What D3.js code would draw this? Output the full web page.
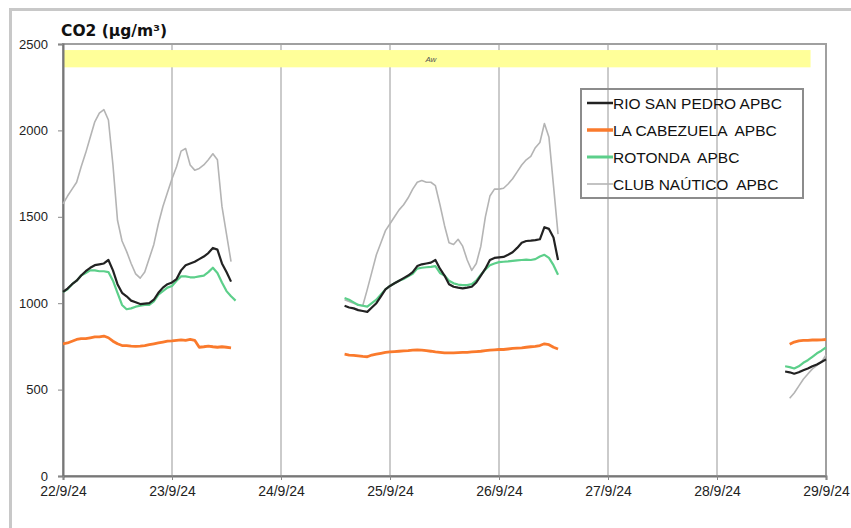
<!DOCTYPE html>
<html><head><meta charset="utf-8">
<script src="https://cdn.jsdelivr.net/npm/d3@7"></script>
<style>
body{margin:0;background:#fff;}
svg{display:block;}
</style></head>
<body>
<svg id="chart" width="851" height="528"></svg>
<script>
// ---- data ----
const dateLabels = ["22/9/24","23/9/24","24/9/24","25/9/24","26/9/24","27/9/24","28/9/24","29/9/24"];
const yTicks = [0, 500, 1000, 1500, 2000, 2500];
const seriesNames = ["RIO SAN PEDRO APBC", "LA CABEZUELA  APBC", "ROTONDA  APBC", "CLUB NAÚTICO  APBC"];
const segmentStartHours = [0, 62, 159]; // hours since 22/9/24 00:00, hourly data
const rioSanPedro = [
  [1065,1085,1110,1130,1160,1185,1205,1220,1225,1230,1250,1190,1110,1060,1040,1015,1005,995,998,1000,1020,1060,1090,1110,1120,1140,1190,1220,1230,1240,1255,1270,1290,1320,1310,1230,1180,1125,null],
  [985,975,970,960,955,950,975,1000,1040,1080,1100,1115,1130,1145,1160,1180,1215,1225,1230,1235,1250,1200,1160,1110,1095,1090,1086,1090,1095,1120,1160,1200,1250,1262,1265,1268,1280,1295,1320,1350,1360,1362,1365,1370,1440,1430,1380,1250],
  [605,600,592,600,612,622,635,645,660,675]
];
const laCabezuela = [
  [765,770,780,790,795,795,800,805,805,810,800,780,765,755,755,752,750,752,755,760,765,770,775,780,782,785,788,785,790,785,745,748,752,748,745,748,745,742,null],
  [705,700,698,695,692,690,700,705,710,715,718,720,722,724,725,728,730,728,725,722,718,715,712,712,713,714,715,716,718,720,722,725,728,730,732,732,735,738,740,742,745,748,750,755,765,760,745,735],
  [null,762,775,782,785,785,787,787,788,790]
];
const rotonda = [
  [1065,1080,1110,1130,1160,1175,1190,1190,1185,1185,1180,1130,1060,990,965,970,980,985,990,990,1010,1050,1070,1090,1100,1130,1155,1155,1150,1150,1155,1160,1180,1205,1175,1120,1070,1040,1015],
  [1030,1020,1005,990,985,980,1000,1020,1050,1080,1100,1115,1130,1140,1155,1170,1200,1205,1208,1210,1215,1175,1160,1130,1115,1108,1105,1105,1110,1130,1165,1195,1220,1230,1238,1240,1242,1245,1248,1250,1252,1250,1255,1270,1280,1262,1220,1165],
  [635,630,622,635,655,670,690,710,725,745]
];
const clubNautico = [
  [1575,1620,1660,1700,1790,1870,1960,2050,2100,2120,2060,1800,1480,1360,1300,1230,1170,1145,1180,1260,1340,1460,1560,1640,1720,1790,1880,1895,1800,1770,1780,1800,1830,1865,1830,1560,1400,1240,null],
  [1020,1010,1000,990,985,1080,1180,1280,1350,1420,1460,1500,1540,1570,1610,1660,1700,1710,1700,1700,1680,1570,1450,1350,1340,1370,1330,1250,1190,1230,1330,1500,1620,1660,1660,1665,1690,1720,1760,1800,1830,1850,1900,1930,2040,1960,1680,1400],
  [null,450,480,520,560,590,620,640,660,700]
];
const bandLabel = "Aw";

// ---- chart ----
const svg = d3.select("#chart");
const m = {left:63, right:826, top:44, bottom:476};
const x = d3.scaleLinear().domain([0,168]).range([m.left, m.right]);
const y = d3.scaleLinear().domain([0,2500]).range([m.bottom, m.top]);

// outer frame
svg.append("path").attr("d","M10.5,528 V9.5 H851").attr("fill","none").attr("stroke","#c8c8c8").attr("stroke-width",3);

// gridlines
svg.append("g").selectAll("line").data(d3.range(1,7)).join("line")
  .attr("x1", d=>x(d*24)).attr("x2", d=>x(d*24))
  .attr("y1", m.top).attr("y2", m.bottom)
  .attr("stroke","#a8a8a8").attr("stroke-width",1.2);

// yellow band
svg.append("rect").attr("x", m.left).attr("y", y(2465)).attr("width", x(164.6)-m.left).attr("height", y(2365)-y(2465))
  .attr("fill","#ffff99");
svg.append("text").attr("x", x(81)).attr("y", y(2415)+3).attr("text-anchor","middle")
  .attr("font-family","Liberation Sans, Arial, sans-serif").attr("font-size",8).attr("font-style","italic").attr("fill","#555")
  .text(bandLabel);

// plot border
svg.append("rect").attr("x", m.left).attr("y", m.top).attr("width", m.right-m.left).attr("height", m.bottom-m.top)
  .attr("fill","none").attr("stroke","#a0a0a0").attr("stroke-width",2);

// axes
const fontAxis = "'Liberation Sans Narrow','Liberation Sans',Arial,sans-serif";
const yAxis = svg.append("g").attr("transform",`translate(${m.left},0)`)
  .call(d3.axisLeft(y).tickValues(yTicks).tickSize(5).tickPadding(10).tickFormat(d3.format("d")));
yAxis.select(".domain").attr("stroke","#777").attr("stroke-width",2);
yAxis.selectAll(".tick line").attr("stroke","#888");
yAxis.selectAll("text").attr("font-family",fontAxis).attr("font-size",13).attr("fill","#222");

const xAxis = svg.append("g").attr("transform",`translate(0,${m.bottom})`)
  .call(d3.axisBottom(x).tickValues(d3.range(0,8).map(d=>d*24)).tickSize(4).tickPadding(6).tickFormat((d,i)=>dateLabels[i]));
xAxis.select(".domain").attr("stroke","#777").attr("stroke-width",2);
xAxis.selectAll(".tick line").attr("stroke","#888");
xAxis.selectAll("text").attr("font-family",fontAxis).attr("font-size",14).attr("fill","#222");

// title
svg.append("text").attr("x", 61).attr("y", 36).attr("font-family","'DejaVu Sans',Verdana,sans-serif")
  .attr("font-weight","bold").attr("font-size",15.5).attr("fill","#111").text("CO2 (µg/m³)");

// series
const seriesData = [clubNautico, rotonda, laCabezuela, rioSanPedro];
const colors = ["#b4b4b4", "#5ccf8a", "#fa7a2c", "#222222"];
const widths = [1.6, 2.2, 2.8, 2.2];
const line = d3.line().defined(d=>d.v!=null).x(d=>x(d.h)).y(d=>y(d.v)).curve(d3.curveLinear);
seriesData.forEach((segs, si)=>{
  segs.forEach((vals, gi)=>{
    const pts = vals.map((v,i)=>({h: segmentStartHours[gi]+i, v}));
    svg.append("path").datum(pts).attr("d", line).attr("fill","none")
      .attr("stroke", colors[si]).attr("stroke-width", widths[si]).attr("stroke-linejoin","round");
  });
});

// legend
const lg = svg.append("g");
lg.append("rect").attr("x",581).attr("y",89).attr("width",222).attr("height",109)
  .attr("fill","none").attr("stroke","#8c8c8c").attr("stroke-width",2);
const legColors = ["#222222", "#fa7a2c", "#5ccf8a", "#b4b4b4"];
const legWidths = [2.5, 3.5, 3, 1.6];
seriesNames.forEach((n,i)=>{
  const yy = 103 + i*27;
  lg.append("line").attr("x1",587).attr("x2",613).attr("y1",yy).attr("y2",yy)
    .attr("stroke",legColors[i]).attr("stroke-width",legWidths[i]);
  lg.append("text").attr("x",613).attr("y",yy+5.5).attr("font-family","'Liberation Sans',Arial,sans-serif")
    .attr("font-size",15.5).attr("fill","#111").attr("xml:space","preserve").style("white-space","pre").text(n);
});
</script>
</body></html>
